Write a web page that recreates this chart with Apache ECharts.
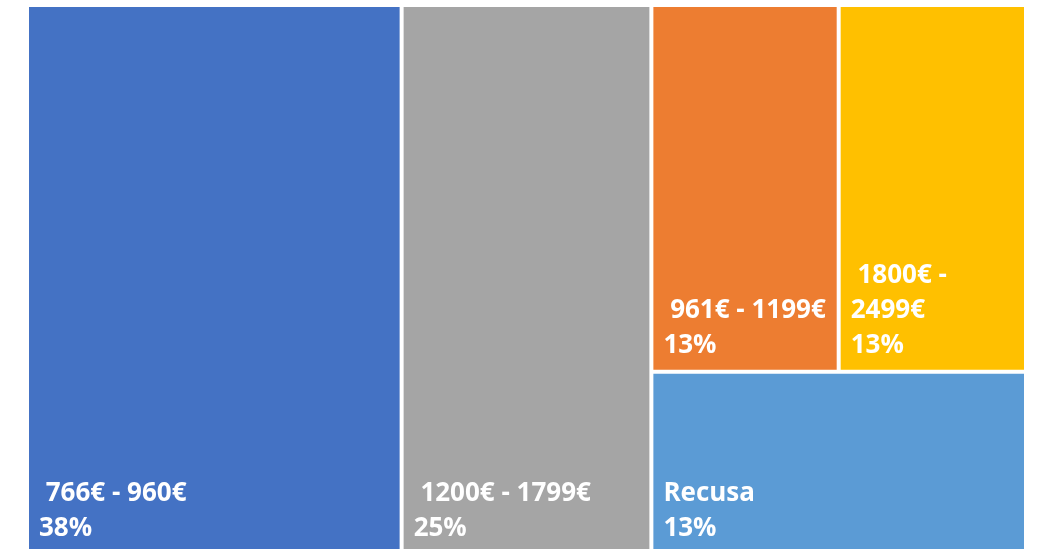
<!DOCTYPE html>
<html>
<head>
<meta charset="utf-8">
<script src="https://cdn.jsdelivr.net/npm/echarts@6/dist/echarts.min.js"></script>
<style>
html,body{margin:0;padding:0;background:#fff;}
#chart{width:1041px;height:549px;}
</style>
</head>
<body>
<div id="chart"></div>
<script>
// Data
const categories = [' 766€ - 960€', ' 1200€ - 1799€', ' 961€ - 1199€', ' 1800€ - 2499€', 'Recusa'];
// label text as wrapped in the original chart
const categoryLabels = [' 766€ - 960€', ' 1200€ - 1799€', ' 961€ - 1199€', ' 1800€ -\n2499€', 'Recusa'];
const shares = [37.5, 25, 12.5, 12.5, 12.5]; // percent of respondents
const colors = ['#4472C4', '#A5A5A5', '#ED7D31', '#FFC000', '#5B9BD5'];

function leaf(i) {
  return { name: categories[i], value: shares[i], labelText: categoryLabels[i], itemStyle: { color: colors[i] } };
}
function group(children) {
  const v = children.reduce((s, c) => s + c.value, 0);
  return { name: '', value: v, children: children, label: { show: false }, itemStyle: { color: '#fff' } };
}
const treeData = [
  leaf(0),
  leaf(1),
  group([group([leaf(2), leaf(3)]), leaf(4)])
];
const total = shares.reduce((a, b) => a + b, 0);

const chart = echarts.init(document.getElementById('chart'), null, { renderer: 'canvas' });
chart.setOption({
  animation: false,
  series: [{
    type: 'treemap',
    left: 29,
    top: 7,
    width: 995,
    height: 546,
    sort: false,
    squareRatio: 1,
    roam: false,
    nodeClick: false,
    drillDownIcon: '',
    breadcrumb: { show: false },
    visibleMin: 0,
    itemStyle: { gapWidth: 4, borderWidth: 0, borderColor: '#fff' },
    label: {
      show: true,
      position: 'insideBottomLeft',
      formatter: function (p) {
        const idx = categories.indexOf(p.name);
        const txt = idx >= 0 ? categoryLabels[idx] : p.name;
        return txt + '\n' + Math.round(p.value / total * 100) + '%';
      },
      fontFamily: 'Open Sans',
      fontWeight: 'bold',
      fontSize: 26,
      lineHeight: 35,
      color: '#fff',
      overflow: 'none',
      padding: [0, 0, 7, 10]
    },
    upperLabel: { show: false },
    emphasis: { disabled: true },
    data: treeData
  }]
});
</script>
</body>
</html>
